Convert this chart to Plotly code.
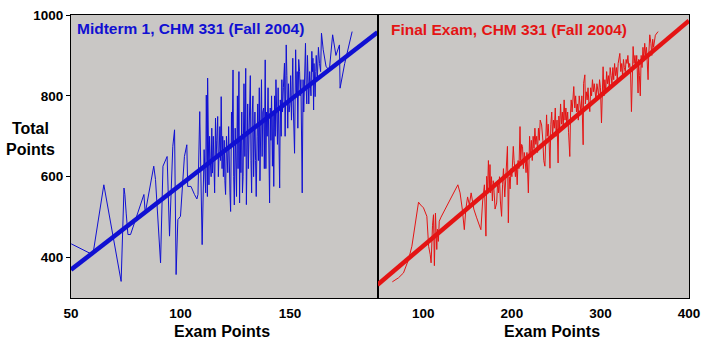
import plotly.graph_objects as go

# ---- Midterm 1: exam points vs. total course points (students sorted by exam score)
mid_x = [50.1, 60.0, 65.0, 72.9, 74.2, 74.6, 75.2, 76.0, 77.2, 78.6, 81.3, 83.3, 83.9, 85.1,
         87.8, 88.6, 89.7, 90.9, 92.0, 93.9, 95.0, 96.5, 97.3, 97.6, 98.0, 98.8, 100.0, 101.8,
         102.9, 103.3, 104.8, 106.4, 107.5, 108.0, 108.8, 109.9, 110.8, 111.5, 111.8, 112.3, 112.4,
         113.0, 113.3, 113.6, 114.0, 114.3, 114.6, 115.0, 115.3, 115.6, 116.0, 116.3, 116.6,
         117.0, 117.3, 117.6, 118.0, 118.3, 118.6, 119.0, 119.3, 119.6, 120.0, 120.3, 120.6,
         121.0, 121.3, 121.6, 122.0, 122.3, 122.6, 122.9, 123.3, 123.6, 124.0, 124.3, 124.6,
         125.0, 125.3, 125.6, 126.0, 126.3, 126.7, 127.0, 127.3, 127.6, 128.0, 128.3, 128.6,
         129.0, 129.4, 129.8, 130.1, 130.4, 130.7, 131.0, 131.4, 131.9, 132.2, 132.5, 132.8,
         133.1, 133.4, 133.7, 134.0, 134.3, 134.6, 135.0, 135.3, 135.6, 136.0, 136.3, 136.6,
         137.0, 137.3, 137.6, 138.0, 138.3, 138.7, 139.0, 139.3, 139.6, 140.0, 140.3, 140.7,
         141.0, 141.3, 141.6, 142.0, 142.3, 142.6, 143.0, 143.3, 143.6, 144.0, 144.3, 144.6,
         145.0, 145.3, 145.6, 146.0, 146.3, 146.6, 147.0, 147.5, 147.8, 148.0, 148.3, 148.6,
         149.0, 149.3, 149.6, 150.0, 150.3, 150.7, 151.0, 151.3, 151.6, 152.1, 152.6, 153.0,
         153.3, 153.6, 154.0, 154.4, 154.7, 155.0, 155.6, 156.0, 156.3, 156.7, 157.1, 157.4,
         157.7, 158.0, 158.3, 158.6, 159.0, 159.3, 159.6, 160.0, 160.3, 160.5, 160.8, 161.0,
         161.5, 161.8, 162.0, 162.5, 163.0, 163.5, 164.0, 164.4,
         165.2, 166.5, 168.0, 169.5, 171.0, 172.6, 172.9, 175.0, 178.4]
mid_y = [434, 407, 580, 341, 572, 556, 510, 457, 457, 481, 523, 556, 510, 543,
         626, 593, 494, 387, 626, 650, 453, 675, 716, 556, 358, 494, 502, 650,
         679, 576, 576, 556, 545, 556, 761, 432, 667, 560, 802, 551, 844,
         580, 700, 642, 600, 720, 609, 700, 620, 560, 745, 650, 690,
         749, 600, 667, 724, 640, 798, 620, 700, 600, 690, 590, 556,
         700, 650, 610, 724, 600, 560, 514, 760, 680, 864, 600, 530,
         720, 640, 551, 800, 620, 860, 535, 700, 610, 760, 560, 600,
         830, 650, 868, 531, 720, 780, 620, 700, 850, 640, 560, 760,
         800, 600, 700, 760, 640, 551, 700, 780, 640, 820, 590, 700,
         840, 650, 760, 770, 620, 889, 620, 760, 700, 820, 680, 535,
         770, 690, 800, 626, 760, 576, 800, 700, 840, 760, 680, 820,
         650, 572, 790, 700, 840, 760, 820, 881, 700, 760, 926, 850,
         720, 830, 760, 780, 850, 740, 880, 893, 760, 658, 914, 800,
         860, 720, 890, 860, 800, 840, 560, 840, 760, 880, 930, 820,
         780, 900, 800, 780, 860, 820, 800, 910, 860, 893, 765, 880,
         798, 860, 900, 839, 920, 880, 860, 955,
         914, 872, 864, 951, 900, 926, 819, 880, 959]

# ---- Final exam: exam points vs. total course points
fin_x = [65.0, 72.0, 77.6, 83.3, 87.1, 90.8, 94.6, 97.0, 100.2, 104.0, 106.0, 107.8, 108.8,
         110.4, 111.5, 112.5, 113.7, 115.2, 116.0, 117.0, 118.0, 120.0, 139.0, 141.5, 144.0,
         146.3, 148.0, 150.0, 152.0, 154.0, 157.0, 160.0, 163.0, 165.0, 167.0, 169.0, 170.7,
         171.6, 172.5, 173.5, 174.5, 175.3, 176.0, 177.0, 178.0, 179.0, 180.0, 181.0, 182.8,
         184.0, 185.0, 186.0, 187.0, 188.4, 189.5, 190.5, 192.0, 193.0, 194.0, 195.0, 196.0,
         197.0, 198.0, 199.0, 200.0, 201.6, 202.5, 204.0, 205.0, 206.0, 207.0, 208.0, 209.2,
         210.0, 211.0, 212.0, 213.0, 214.0, 215.0, 216.0, 217.0, 218.6, 220.0, 221.0, 222.0,
         223.0, 224.0, 225.0, 226.0, 227.0, 228.0, 229.0, 230.0, 231.0, 232.0, 233.6, 235.0,
         236.0, 237.3, 238.0, 239.2, 240.0, 241.0, 242.0, 243.0, 244.0, 245.0, 246.0, 247.0,
         248.0, 249.0, 250.0, 251.0, 252.2, 253.0, 254.0, 255.0, 256.0, 257.0, 258.0, 259.0,
         260.0, 261.0, 262.0, 263.0, 264.0, 265.4, 266.3, 267.0, 268.0, 269.9, 271.0, 272.0,
         273.0, 274.0, 275.0, 276.0, 277.0, 278.0, 279.0, 280.5, 281.0, 282.4, 283.0, 284.0,
         285.0, 286.0, 287.0, 288.0, 289.0, 290.0, 291.0, 292.0, 293.0, 294.0, 295.0, 296.0,
         297.0, 298.0, 299.0, 300.0, 301.2, 302.0, 303.0, 304.0, 305.0, 306.0, 307.0, 308.0,
         309.0, 310.0, 311.0, 312.0, 313.0, 314.0, 315.0, 316.0, 317.0, 318.0, 319.0, 320.0,
         321.9, 323.0, 324.0, 325.0, 326.0, 327.0, 328.0, 329.0, 330.0, 331.0, 332.0, 333.0,
         334.0, 335.0, 336.2, 336.9, 338.0, 339.0, 340.0, 341.0, 342.5, 343.0, 344.0, 345.0,
         346.0, 347.0, 348.0, 349.0, 350.0, 351.0, 352.0, 353.8, 354.5, 355.7, 357.0, 358.0,
         359.0, 360.0, 362.0, 365.1]
fin_y = [340, 350, 362, 395, 428, 477, 537, 530, 523, 502, 428, 407, 387,
         480, 506, 380, 510, 420, 470, 440, 490, 500, 580, 560, 520,
         469, 520, 550, 530, 560, 520, 500, 480, 469, 540, 580, 453,
         601, 560, 640, 570, 630, 560, 600, 540, 590, 560, 520, 535,
         590, 560, 600, 540, 502, 580, 620, 550, 600, 640, 675, 486,
         600, 570, 620, 600, 675, 640, 600, 630, 580, 640, 620, 724,
         640, 680, 675, 620, 660, 640, 610, 660, 560, 700, 650, 690,
         640, 700, 670, 720, 680, 700, 660, 720, 690, 740, 728, 690,
         640, 626, 700, 753, 700, 730, 690, 621, 730, 760, 700, 740,
         720, 770, 700, 740, 634, 750, 720, 780, 730, 760, 720, 790,
         740, 770, 730, 760, 710, 650, 760, 790, 760, 823, 770, 800,
         760, 780, 740, 800, 780, 760, 800, 679, 831, 852, 780, 810,
         790, 820, 780, 761, 820, 800, 840, 810, 830, 800, 790, 830,
         810, 800, 840, 820, 733, 830, 872, 800, 840, 810, 860, 830,
         850, 820, 870, 850, 830, 870, 840, 880, 850, 870, 840, 880,
         905, 860, 880, 850, 890, 870, 860, 890, 880, 900, 870, 880,
         860, 761, 880, 922, 880, 900, 870, 900, 807, 890, 850, 800,
         900, 870, 920, 890, 930, 900, 920, 840, 900, 951, 930, 900,
         940, 920, 950, 959]

# ---- least-squares fit lines (end points)
mid_fit_x = [50, 190]
mid_fit_y = [370, 957]
fin_fit_x = [48.3, 400]
fin_fit_y = [333, 986]

x_title = "Exam Points"
y_title = "Total<br>Points"
mid_title = "Midterm 1, CHM 331 (Fall 2004)"
fin_title = "Final Exam, CHM 331 (Fall 2004)"

BLUE = "#1010d2"
RED = "#e41414"
PANEL = "#c9c7c5"
FONT = "Arial, Liberation Sans, Helvetica, sans-serif"

fig = go.Figure()
fig.add_trace(go.Scatter(x=mid_x, y=mid_y, mode="lines", line=dict(color=BLUE, width=1),
                         xaxis="x", yaxis="y", hoverinfo="skip"))
fig.add_trace(go.Scatter(x=mid_fit_x, y=mid_fit_y, mode="lines", line=dict(color=BLUE, width=4.5),
                         xaxis="x", yaxis="y"))
fig.add_trace(go.Scatter(x=fin_x, y=fin_y, mode="lines", line=dict(color=RED, width=1),
                         xaxis="x2", yaxis="y2", hoverinfo="skip"))
fig.add_trace(go.Scatter(x=fin_fit_x, y=fin_fit_y, mode="lines", line=dict(color=RED, width=4.5),
                         xaxis="x2", yaxis="y2"))

tickfont = dict(family=FONT, size=13.5, color="black", weight="bold")
axis_common = dict(showgrid=False, zeroline=False, showline=True, linecolor="black",
                   linewidth=1, mirror=True, tickfont=tickfont, automargin=False)

split = 0.496
fig.update_layout(
    width=702, height=342,
    margin=dict(l=71, r=13, t=15, b=44),
    paper_bgcolor="white",
    plot_bgcolor=PANEL,
    showlegend=False,
    xaxis=dict(domain=[0, split], range=[50, 190], tickvals=[50, 100, 150],
               ticks="", ticklabelstandoff=3, anchor="y", **axis_common),
    yaxis=dict(domain=[0, 1], range=[300, 1000], tickvals=[400, 600, 800, 1000],
               ticks="outside", ticklen=4, tickcolor="black", anchor="x", **axis_common),
    xaxis2=dict(domain=[split, 1], range=[48.3, 400], tickvals=[100, 200, 300, 400],
                ticks="", ticklabelstandoff=3, anchor="y2", **axis_common),
    yaxis2=dict(domain=[0, 1], range=[300, 1000], showticklabels=False, ticks="",
                anchor="x2", **axis_common),
)

ann_font = dict(family=FONT, size=16, color="black", weight="bold")
fig.add_annotation(text=y_title, xref="paper", yref="paper", x=-0.066, y=0.562,
                   xanchor="center", yanchor="middle", showarrow=False, align="center",
                   font=ann_font)
fig.add_annotation(text=x_title, xref="paper", yref="paper", x=0.2443, y=-0.12,
                   xanchor="center", yanchor="middle", showarrow=False, font=ann_font)
fig.add_annotation(text=x_title, xref="paper", yref="paper", x=0.7783, y=-0.12,
                   xanchor="center", yanchor="middle", showarrow=False, font=ann_font)
fig.add_annotation(text=mid_title, xref="paper", yref="paper", x=0.0065, y=0.954,
                   xanchor="left", yanchor="middle", showarrow=False,
                   font=dict(family=FONT, size=15.5, color=BLUE, weight="bold"))
fig.add_annotation(text=fin_title, xref="paper", yref="paper", x=0.5146, y=0.947,
                   xanchor="left", yanchor="middle", showarrow=False,
                   font=dict(family=FONT, size=15.5, color=RED, weight="bold"))

fig.write_html("out.html")
